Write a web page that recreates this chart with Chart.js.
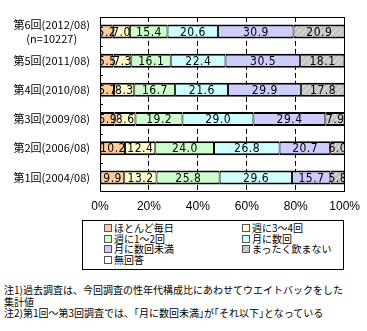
<!DOCTYPE html>
<html lang="ja">
<head>
<meta charset="utf-8">
<script src="https://cdn.jsdelivr.net/npm/chart.js@4.4.1/dist/chart.umd.min.js"></script>
<style>
  html, body { margin: 0; padding: 0; background: #fff; }
  body { width: 367px; height: 331px; position: relative; overflow: hidden;
         font-family: "Noto Sans CJK JP", sans-serif; color: #000; }
  #wrap { position: absolute; left: 0; top: 0; width: 367px; height: 216px; }
  #legend { position: absolute; left: 82px; top: 220px; width: 260px; height: 48px;
            border: 1px solid #000; box-sizing: content-box; }
  #legend .item { position: absolute; font-size: 10px; line-height: 10px; white-space: nowrap; }
  #legend .box { display: inline-block; width: 6px; height: 6px; border: 1px solid #555;
                 margin-right: 2px; vertical-align: 0px; background-size: 6px 6px; }
  #notes { position: absolute; left: 4px; top: 284px; font-size: 10px; line-height: 11.5px;
           white-space: nowrap; }
</style>
</head>
<body>
<div id="wrap"><canvas id="drinkChart"></canvas></div>
<div id="legend"></div>
<div id="notes">
  注1)過去調査は、今回調査の性年代構成比にあわせてウエイトバックをした<br>
  集計値<br>
  注2)第1回～第3回調査では、｢月に数回未満｣が｢それ以下｣となっている
</div>
<script>
// survey rounds, top to bottom
var rounds = [
  ['第6回(2012/08)', '(n=10227)'],
  '第5回(2011/08)',
  '第4回(2010/08)',
  '第3回(2009/08)',
  '第2回(2006/08)',
  '第1回(2004/08)'
];
var seriesNames = ['ほとんど毎日', '週に3～4回', '週に1～2回', '月に数回', '月に数回未満', 'まったく飲まない', '無回答'];

// percentages per round
var almostDaily  = [5.2, 5.5, 5.7, 5.9, 10.2, 9.9];
var threeFourWk  = [7.0, 7.3, 8.3, 8.6, 12.4, 13.2];
var oneTwoWk     = [15.4, 16.1, 16.7, 19.2, 24.0, 25.8];
var fewMonth     = [20.6, 22.4, 21.6, 29.0, 26.8, 29.6];
var underFewMon  = [30.9, 30.5, 29.9, 29.4, 20.7, 15.7];
var neverDrink   = [20.9, 18.1, 17.8, 7.9, 6.0, 5.8];
var noAnswer     = [0, 0, 0, 0, 0, 0];

var xTicks = [0, 20, 40, 60, 80, 100];

// hatched gray fill for "never"
var hatch = document.createElement('canvas');
hatch.width = 6; hatch.height = 6;
(function () {
  var c = hatch.getContext('2d');
  c.fillStyle = '#C4C4C4';
  c.fillRect(0, 0, 6, 6);
  c.strokeStyle = '#E6E6E6';
  c.lineWidth = 1;
  c.beginPath();
  c.moveTo(0, 6); c.lineTo(6, 0);
  c.moveTo(-3, 3); c.lineTo(3, -3);
  c.moveTo(3, 9); c.lineTo(9, 3);
  c.stroke();
})();
var hatchFill = hatch.getContext('2d').createPattern(hatch, 'repeat');

var fills = ['#FFCC99', '#FFFFCC', '#CCFFCC', '#CCFFFF', '#CCCCFF', hatchFill, '#FFFFFF'];
var values = [almostDaily, threeFourWk, oneTwoWk, fewMonth, underFewMon, neverDrink, noAnswer];

var datasets = values.map(function (v, i) {
  var last = i === values.length - 1;
  return {
    label: seriesNames[i],
    data: v,
    backgroundColor: fills[i],
    borderColor: '#000',
    borderWidth: last ? 0 : { top: 2, bottom: 2, left: 1, right: 1 },
    borderSkipped: false,
    barPercentage: 0.48,
    categoryPercentage: 1
  };
});

// plot frame and short inward ticks between rounds
var framePlugin = {
  id: 'frame',
  afterDraw: function (chart) {
    var ctx = chart.ctx, a = chart.chartArea, y = chart.scales.y;
    ctx.save();
    ctx.strokeStyle = '#000';
    ctx.lineWidth = 1;
    ctx.strokeRect(Math.round(a.left) + 0.5, Math.round(a.top) + 0.5,
                   Math.round(a.right - a.left) - 1, Math.round(a.bottom - a.top) - 1);
    ctx.beginPath();
    for (var i = 1; i < rounds.length; i++) {
      var py = Math.round((y.getPixelForTick(i - 1) + y.getPixelForTick(i)) / 2) + 0.5;
      ctx.moveTo(a.left, py); ctx.lineTo(a.left + 3, py);
    }
    ctx.stroke();
    ctx.restore();
  }
};

// value text centred in each segment
var valueLabels = {
  id: 'valueLabels',
  afterDatasetsDraw: function (chart) {
    var ctx = chart.ctx, a = chart.chartArea;
    ctx.save();
    ctx.beginPath();
    ctx.rect(a.left, a.top, a.right - a.left, a.bottom - a.top);
    ctx.clip();
    ctx.font = '12px "Liberation Sans Narrow", "DejaVu Sans Condensed", sans-serif';
    ctx.letterSpacing = '0.5px';
    ctx.fillStyle = '#000';
    ctx.textAlign = 'center';
    ctx.textBaseline = 'middle';
    chart.data.datasets.forEach(function (ds, di) {
      if (di === chart.data.datasets.length - 1) return;
      chart.getDatasetMeta(di).data.forEach(function (bar, j) {
        var v = ds.data[j];
        ctx.fillText(v.toFixed(1), (bar.x + bar.base) / 2 + 0.25, bar.y + 1);
      });
    });
    ctx.restore();
  }
};

var chart = new Chart(document.getElementById('drinkChart'), {
  type: 'bar',
  data: { labels: rounds, datasets: datasets },
  options: {
    indexAxis: 'y',
    responsive: true,
    maintainAspectRatio: false,
    animation: false,
    layout: { padding: { left: 0, top: 6, right: 21, bottom: 0 } },
    plugins: { legend: { display: false }, tooltip: { enabled: false } },
    scales: {
      x: {
        stacked: true,
        min: 0, max: 100,
        afterBuildTicks: function (s) { s.ticks = xTicks.map(function (v) { return { value: v }; }); },
        afterFit: function (s) { s.height = 24; },
        ticks: {
          padding: 7,
          color: '#000',
          font: { family: '"Liberation Sans Narrow", sans-serif', size: 12 },
          callback: function (v) { return v + '%'; }
        },
        grid: {
          drawTicks: false,
          color: function (c) { return (c.tick && (c.tick.value === 0 || c.tick.value === 100)) ? 'rgba(0,0,0,0)' : '#000'; },
          lineWidth: 1
        },
        border: { display: false, dash: [5, 3] }
      },
      y: {
        stacked: true,
        afterFit: function (s) { s.width = 100; },
        ticks: {
          autoSkip: false,
          padding: 10,
          crossAlign: 'center',
          color: '#000',
          font: { family: '"Noto Sans CJK JP", sans-serif', size: 11, lineHeight: 1.25 }
        },
        grid: { display: false, drawTicks: false },
        border: { display: false }
      }
    }
  },
  plugins: [framePlugin, valueLabels]
});

// legend in two columns, built from the datasets
(function () {
  var legend = document.getElementById('legend');
  var colX = [21, 159];
  var rowY = [2, 12.5, 23, 33.5];
  chart.data.datasets.forEach(function (ds, i) {
    var item = document.createElement('div');
    item.className = 'item';
    item.style.left = colX[i % 2] + 'px';
    item.style.top = rowY[Math.floor(i / 2)] + 'px';
    var box = document.createElement('span');
    box.className = 'box';
    if (typeof ds.backgroundColor === 'string') box.style.background = ds.backgroundColor;
    else box.style.backgroundImage = 'url(' + hatch.toDataURL() + ')';
    item.appendChild(box);
    item.appendChild(document.createTextNode(ds.label));
    legend.appendChild(item);
  });
})();
</script>
</body>
</html>
